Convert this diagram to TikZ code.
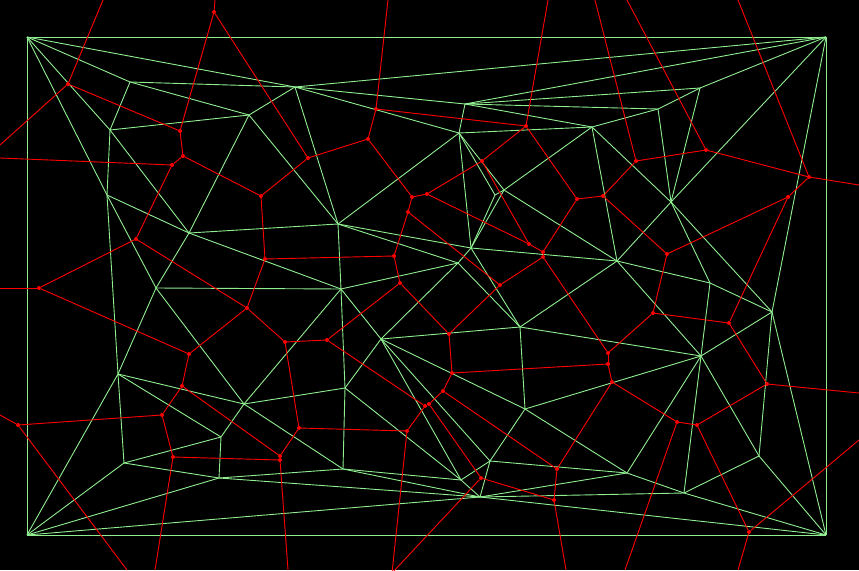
\documentclass[tikz,border=0pt]{standalone}
\begin{document}
\begin{tikzpicture}[x=1pt,y=-1pt,
  del/.style={draw={rgb,255:red,144;green,238;blue,144},line width=0.9pt},
  vor/.style={draw={rgb,255:red,255;green,0;blue,0},line width=0.9pt},
  vdot/.style={fill={rgb,255:red,255;green,0;blue,0},circle,inner sep=0pt,minimum size=4pt}]
\fill[black] (0,0) rectangle (859,570);
\useasboundingbox (0,0) rectangle (859,570);
\begin{scope}
\clip (0,0) rectangle (859,570);
% Delaunay points
\foreach \n/\x/\y in {a/27/37,b/826/37,c/826/535,d/27/535,
 p1/130/82,p2/110/130,p3/295/87,p4/249/115,p5/465/104,p6/459/133,p7/592/127,
 p8/700/88,p9/658/109,p10/107/195,p11/189/233,p12/156/288,p13/118/374,
 p14/338/224,p15/341/289,p16/381/339,p17/471/248,q1/504/190,z/495/195,q3/458/263,p18/617/261,
 p19/520/327,p20/671/202,p21/710/283,p22/772/312,p23/701/356,p24/124/463,
 p26/221/437,p27/219/478,p28/244/404,p29/345/388,p30/343/469,p31/525/409,
 p32/490/461,w/461/480,p33/480/497,p34/627/473,p35/759/456,p36/684/493}
 \coordinate (\n) at (\x,\y);
\foreach \u/\v in {a/b,b/c,c/d,d/a,a/p1,a/p2,a/p3,a/p10,p1/p2,p1/p3,p1/p4,p2/p4,
 p2/p10,p2/p11,p3/p4,p3/p14,p4/p11,p4/p14,p10/p11,p10/p12,p11/p12,p10/p13,
 p12/p13,p11/p14,p11/p15,p14/p15,p12/p15,p12/p28,p15/p28,p13/p28,p28/p29,
 p15/p29,p3/p6,p6/p14,p3/p5,p5/p6,p6/p17,p14/p17,p5/p7,p6/p7,p3/b,p5/b,p5/p8,
 p5/p9,p7/p9,p8/p9,p8/b,p9/p20,p8/p20,p7/p20,b/p20,b/p22,p20/p22,p20/p21,
 p21/p22,p18/p20,p7/p18,p18/p21,p21/p23,p18/p23,p22/p23,p22/p35,p23/p35,
 p23/p36,p35/p36,p35/c,p36/c,p22/c,p23/p34,p34/p36,p23/p31,p31/p34,p19/p23,
 p19/p31,p18/p19,p17/p18,p17/p19,q1/p7,q1/p18,q1/p17,q1/p6,z/p6,z/p17,z/q1,
 p14/q3,p15/q3,p16/q3,p17/q3,q3/p19,p16/p19,p16/p31,p16/p32,p31/p32,p16/p29,
 p16/w,p15/p16,w/p29,w/p30,w/p32,w/p33,
 p13/p24,p13/p26,p24/p26,p24/p27,p26/p27,d/p13,d/p24,d/p27,d/p33,p26/p28,
 p28/p30,p27/p30,p29/p30,p30/p33,p27/p33,p32/p33,p33/p34,p33/c,
 p33/p36,p32/p34}
 \draw[del] (\u) -- (\v);
% Voronoi vertices
\foreach \n/\x/\y in {r1/68/84,r2/180/131,r3/183/156,r4/172/165,r5/214/12,
 r6/308/158,r7/261/196,r8/136/239,r9/39/288,r10/265/259,r11/247/308,
 r12/189/354,r13/285/342,r14/368/139,r15/376/109,r16/412/197,r17/427/194,
 r18/482/161,r19/526/126,r20/529/244,r21/543/252,r22/543/257,r23/577/199,
 r24/603/196,r25/636/161,r26/706/150,r27/809/177,r28/788/197,r29/667/254,
 r30/653/313,r31/729/323,r32/767/384,r33/697/425,r34/677/422,r35/749/532,
 r36/612/382,r37/608/364,r38/608/353,r39/500/285,r40/449/334,r41/452/373,
 r42/443/391,r43/425/406,r44/429/404,r45/407/431,r46/408/212,r47/394/256,
 r48/400/283,r49/327/340,r51/18/425,r52/162/415,r53/182/386,r54/173/457,
 r55/299/428,r56/280/456,r57/280/460,r58/481/478,r59/557/469,r60/554/500}
 \node[vdot] (\n) at (\x,\y) {};
% border exits
\foreach \n/\x/\y in {e1/103/0,e2/0/145,e3/0/158,e4/215/0,e5/0/288,e6/388/0,
 e7/548/0,e8/595/0,e9/627/0,e10/738/0,e11/859/185,e12/859/393,e13/859/440,
 e14/738/570,e15/0/415,e16/155/570,e17/288/570,e18/392/573,
 e20/566/570,e21/625/570,e22/127/570}
 \coordinate (\n) at (\x,\y);
\foreach \u/\v in {r1/e1,r1/e2,r1/r2,r2/r3,r2/r5,r3/r4,r3/r7,r4/e3,r4/r8,
 r5/e4,r5/r6,r6/r7,r6/r14,r7/r10,r8/r9,r8/r11,r9/e5,r9/r12,r10/r11,r10/r47,
 r11/r12,r11/r13,r12/r53,r13/r49,r13/r55,r14/r15,r14/r16,r15/e6,r15/r19,
 r16/r17,r16/r46,r17/r18,r17/r20,r18/r20,r18/r19,r19/e7,r19/r23,r20/r21,r21/r22,
 r21/r23,r22/r39,r22/r38,r23/r24,r24/r25,r24/r29,r25/e8,r25/r26,r26/e9,
 r26/r27,r27/e10,r27/e11,r27/r28,r28/r29,r28/r31,r29/r30,r30/r31,r30/r38,
 r31/r32,r32/e12,r32/r33,r33/r34,r33/r35,r34/r36,r35/e13,r35/e14,r36/r37,
 r37/r38,r37/r41,r36/r59,r46/r47,r46/r39,r47/r48,r48/r49,r48/r40,r39/r40,
 r40/r41,r41/r42,r42/r44,r43/r44,r43/r45,r44/r58,r43/r49,r45/r55,r55/r56,
 r56/r57,r57/r54,r56/r53,r54/r52,r53/r52,r52/r51,r51/e15,r51/e22,r54/e16,
 r57/e17,r45/e18,r58/e18,r42/r59,r59/r60,r60/e20,r34/e21,r60/r58}
 \draw[vor] (\u) -- (\v);
\end{scope}
\end{tikzpicture}
\end{document}
